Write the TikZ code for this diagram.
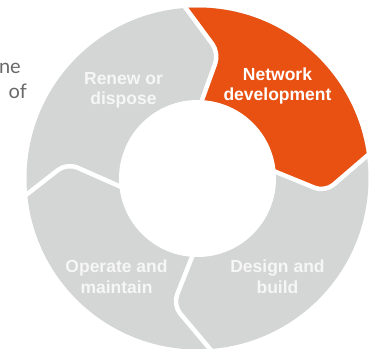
\documentclass[tikz,border=0pt]{standalone}
\usepackage{fontspec}
\setmainfont{Liberation Sans}
\newfontfamily\sidefont{Lato}
\usetikzlibrary{calc}
\definecolor{ringgray}{RGB}{212,213,213}
\definecolor{netorange}{RGB}{232,81,18}
\definecolor{labelwhite}{RGB}{246,246,246}
\definecolor{sidegray}{RGB}{105,105,105}
\begin{document}
\begin{tikzpicture}[x=1pt,y=1pt,
  sep/.style={white,line width=4.5pt,rounded corners=11pt},
  lbl/.style={font=\bfseries\fontsize{17.5}{21}\selectfont,anchor=base,inner sep=0pt},
  sidetext/.style={font=\sidefont\fontsize{20}{24}\selectfont,text=sidegray,anchor=base east,inner sep=0pt}]
\useasboundingbox (0,-349) rectangle (376,0);
\coordinate (C) at (197.5,-178.5);
% separator geometry
\coordinate (tin) at (202,-100);  \coordinate (ttip) at (219,-53);  \coordinate (tout) at (185,-7);
\coordinate (rin) at (276,-172);  \coordinate (rtip) at (325,-192); \coordinate (rout) at (368,-155);
\coordinate (bin) at (192,-257);  \coordinate (btip) at (173,-305); \coordinate (bout) at (210,-349);
\coordinate (lin) at (119,-186);  \coordinate (ltip) at (67,-163);  \coordinate (lout) at (26,-195);
\foreach \s in {t,r,b,l}{
  \coordinate (\s inx) at ($(\s tip)!1.6!(\s in)$);
  \coordinate (\s outx) at ($(\s tip)!1.2!(\s out)$);
}
% ring
\fill[ringgray] (C) circle (171);
\begin{scope}
  \clip (C) circle (171);
  \fill[netorange,rounded corners=11pt] (tinx) -- (ttip) -- (toutx) -- ($(C)+(85:330)$) -- ($(C)+(45:330)$) -- ($(C)+(5:330)$) -- (routx) -- (rtip) -- (rinx) -- (C) -- cycle;
\end{scope}
\fill[white] (C) circle (78.5);
% separators
\foreach \s in {t,r,b,l}{
  \draw[sep] (\s inx) -- (\s tip) -- (\s outx);
}
% labels
\node[lbl,text=white] (net1) at (277.5,-80) {Network};
\node[lbl,text=white] (net2) at (277.5,-100) {development};
\node[lbl,text=labelwhite] (ren1) at (123.5,-84) {Renew or};
\node[lbl,text=labelwhite] (ren2) at (123.5,-104.5) {dispose};
\node[lbl,text=labelwhite] (op1) at (116.5,-272) {Operate and};
\node[lbl,text=labelwhite] (op2) at (116.5,-293) {maintain};
\node[lbl,text=labelwhite] (des1) at (277.5,-272) {Design and};
\node[lbl,text=labelwhite] (des2) at (277.5,-293) {build};
% partial side text
\node[sidetext] (side1) at (21,-73) {ne};
\node[sidetext] (side2) at (27,-98) {of};
\end{tikzpicture}
\end{document}
